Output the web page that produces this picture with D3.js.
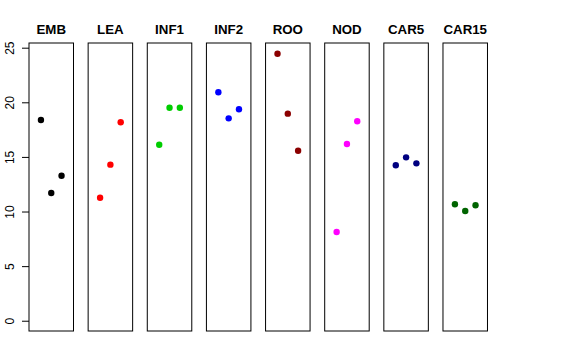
<!DOCTYPE html>
<html><head><meta charset="utf-8">
<script src="https://cdn.jsdelivr.net/npm/d3@7"></script>
<style>body{margin:0;background:#fff}svg{display:block}</style>
</head><body><svg id="c" width="576" height="360"></svg>
<script>
const categories = ["EMB","LEA","INF1","INF2","ROO","NOD","CAR5","CAR15"];
const colors = ["#000000","#FF0000","#00CD00","#0000FF","#8B0000","#FF00FF","#000080","#006400"];
const rep1 = [18.38,11.26,16.12,20.92,24.45,8.12,14.23,10.66];
const rep2 = [11.69,14.29,19.50,18.53,18.96,16.18,14.96,10.05];
const rep3 = [13.28,18.17,19.50,19.36,15.57,18.26,14.41,10.57];
const yTicks = [0,5,10,15,20,25];

const svg = d3.select("#c");
const plotTop = 43, plotBottom = 331, panelW = 44.5, firstLeft = 29, step = 59.14;
const y = d3.scaleLinear().domain([-0.94, 25.43]).range([plotBottom, plotTop]);

categories.forEach((cat, i) => {
  const left = firstLeft + i * step;
  const x = d3.scaleLinear().domain([-0.16, 4.16]).range([left, left + panelW]);
  const g = svg.append("g");
  g.append("rect").attr("x", left).attr("y", plotTop).attr("width", panelW).attr("height", plotBottom - plotTop)
    .attr("fill", "none").attr("stroke", "#000").attr("stroke-width", 1);
  g.append("text").attr("x", left + panelW / 2).attr("y", 34).attr("text-anchor", "middle")
    .attr("font-family", "Liberation Sans, Arial, sans-serif").attr("font-weight", "bold")
    .attr("font-size", "13.3px").text(cat);
  const vals = [rep1[i], rep2[i], rep3[i]];
  g.selectAll("circle").data(vals).enter().append("circle")
    .attr("cx", (d, j) => x(j + 1)).attr("cy", d => y(d)).attr("r", 3.2)
    .attr("fill", colors[i]);
});

const axis = d3.axisLeft(y).tickValues(yTicks).tickSize(7).tickPadding(5).tickFormat(d3.format("d"));
const ag = svg.append("g").attr("transform", `translate(${firstLeft},0)`).call(axis);
ag.select(".domain").remove();
ag.selectAll("line").attr("stroke", "#000");
ag.selectAll("text").attr("font-family", "Liberation Sans, Arial, sans-serif").attr("font-size", "12px")
  .attr("fill", "#000").attr("text-anchor", "middle")
  .attr("x", 0).attr("y", -15.5).attr("dy", null)
  .attr("transform", "rotate(-90)");
</script></body></html>
